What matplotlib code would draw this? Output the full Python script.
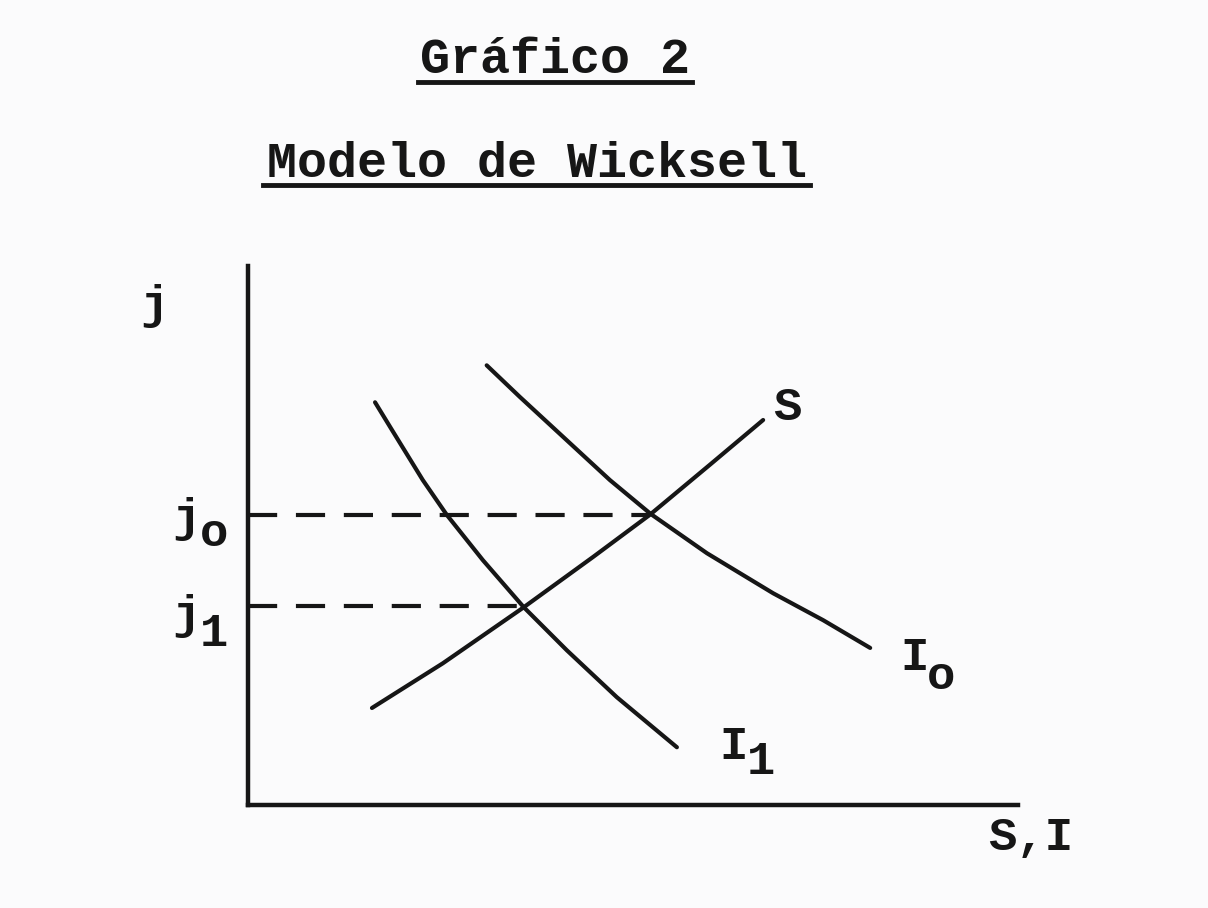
import numpy as np
import matplotlib
matplotlib.use("Agg")
import matplotlib.pyplot as plt
from matplotlib.lines import Line2D

# Datos (unidades arbitrarias: S,I en x, j en y)
s_x = [16.1, 25.3, 35.7, 44.8, 52.2, 60.0, 66.9]
s_y = [12.6, 18.4, 25.6, 32.2, 37.7, 44.2, 50.0]

i1_x = [16.5, 18.7, 22.7, 25.8, 30.5, 35.8, 41.4, 47.9, 55.7]
i1_y = [52.3, 48.7, 42.2, 37.7, 31.8, 25.7, 20.1, 14.0, 7.5]

i0_x = [31.0, 35.3, 41.8, 47.0, 52.3, 59.6, 68.2, 74.7, 80.8]
i0_y = [57.1, 53.0, 47.0, 42.2, 37.8, 32.7, 27.5, 24.0, 20.4]

j0 = 37.7
j1 = 25.8
eq0_x = 52.2   # cruce S - I0
eq1_x = 35.7   # cruce S - I1

FONT = "Liberation Mono"
INK = "#161616"

W, H = 1208, 908
fig = plt.figure(figsize=(W / 100, H / 100), dpi=100)
fig.patch.set_facecolor("#fbfbfc")

# eje: origen en (248, 805) px, ancho 770 px, alto 539 px
ax = fig.add_axes([248 / W, (H - 805) / H, 770 / W, 539 / H])
ax.set_xlim(0, 100)
ax.set_ylim(0, 70)
ax.patch.set_alpha(0)
for side in ["top", "right"]:
    ax.spines[side].set_visible(False)
for side in ["left", "bottom"]:
    ax.spines[side].set_linewidth(3.2)
    ax.spines[side].set_color(INK)
ax.set_xticks([])
ax.set_yticks([])

lw = 3.0
for xs, ys in [(s_x, s_y), (i1_x, i1_y), (i0_x, i0_y)]:
    ax.plot(xs, ys, color=INK, lw=lw, solid_capstyle="round",
            solid_joinstyle="round")

# lineas discontinuas de j0 y j1
ax.plot([0, eq0_x], [j0, j0], color=INK, lw=3.0, dashes=(7, 4.5))
ax.plot([0, eq1_x], [j1, j1], color=INK, lw=3.0, dashes=(7, 4.5))

fs = 34
tkw = dict(fontsize=fs, family=FONT, fontweight="bold", color=INK,
           ha="center", va="center", clip_on=False)

# etiquetas (px -> coordenadas de datos)
def px(x, y):
    return (x - 248) / 7.7, (805 - y) / 7.7

ax.text(*px(154, 306), "j", **tkw)
ax.text(*px(186, 519), "j", **tkw)
ax.text(*px(214, 534), "o", **tkw)
ax.text(*px(186, 616), "j", **tkw)
ax.text(*px(214, 634), "1", **tkw)
ax.text(*px(787, 408), "S", **tkw)
ax.text(*px(915, 658), "I", **tkw)
ax.text(*px(941, 677), "o", **tkw)
ax.text(*px(734, 747), "I", **tkw)
ax.text(*px(761, 762), "1", **tkw)
ax.text(*px(1031, 838), "S,I", **tkw)

# titulos subrayados
fig.text(555 / W, 1 - 73 / H, "Gráfico 2", fontsize=36, family=FONT,
         fontweight="bold", color=INK, ha="center", va="baseline")
fig.text(537 / W, 1 - 177 / H, "Modelo de Wicksell", fontsize=36, family=FONT,
         fontweight="bold", color=INK, ha="center", va="baseline")
fig.add_artist(Line2D([418 / W, 692 / W], [1 - 82 / H, 1 - 82 / H],
                      color=INK, lw=3.5, transform=fig.transFigure))
fig.add_artist(Line2D([263 / W, 810 / W], [1 - 185 / H, 1 - 185 / H],
                      color=INK, lw=3.5, transform=fig.transFigure))

fig.savefig("out.png", dpi=100, facecolor=fig.get_facecolor())
